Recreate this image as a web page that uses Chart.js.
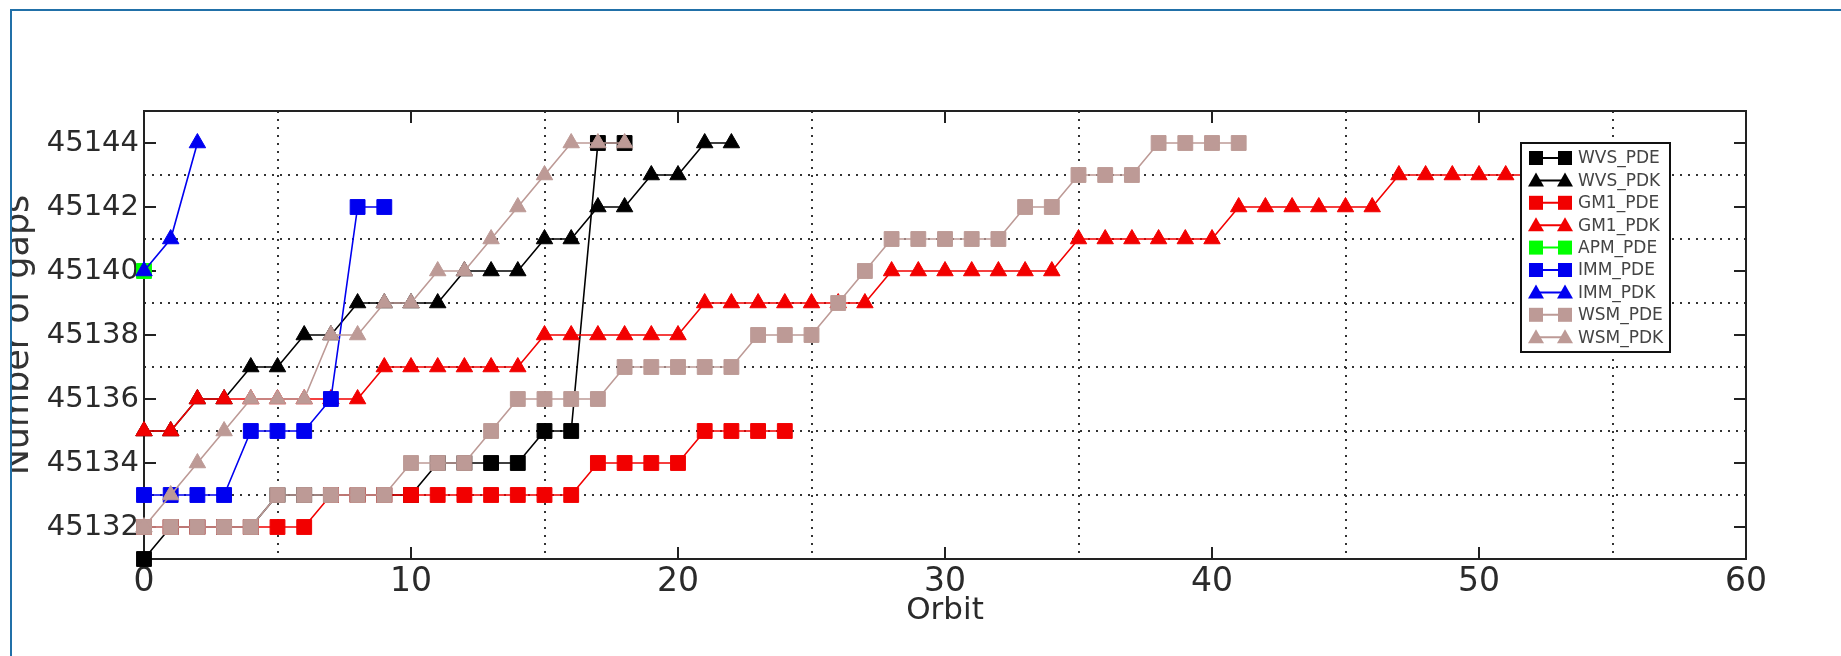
<!DOCTYPE html>
<html>
<head>
<meta charset="utf-8">
<title>Number of gaps per orbit</title>
<script src="https://cdn.jsdelivr.net/npm/chart.js@4.4.1/dist/chart.umd.min.js"></script>
<style>
    html, body { margin: 0; padding: 0; background: #fff; overflow: hidden; }
    #frame {
        position: absolute; left: 10px; top: 9px; width: 1831px; height: 647px;
        border-left: 2px solid #2170a8; border-top: 2px solid #2170a8;
        overflow: hidden; background: #fff;
    }
    #chart-gaps { display: block; }
</style>
</head>
<body>
<div id="frame"><canvas id="chart-gaps" width="1829" height="645"></canvas></div>
<script>
// values per orbit, starting at orbit 0
const wvsPde = [45131, 45132, 45132, 45132, 45132, 45133, 45133, 45133, 45133, 45133,
    45133, 45134, 45134, 45134, 45134, 45135, 45135, 45144, 45144];
const wvsPdk = [45135, 45135, 45136, 45136, 45137, 45137, 45138, 45138, 45139, 45139,
    45139, 45139, 45140, 45140, 45140, 45141, 45141, 45142, 45142, 45143, 45143, 45144, 45144];
const gm1Pde = [45132, 45132, 45132, 45132, 45132, 45132, 45132, 45133, 45133, 45133,
    45133, 45133, 45133, 45133, 45133, 45133, 45133, 45134, 45134, 45134, 45134,
    45135, 45135, 45135, 45135];
const gm1Pdk = [45135, 45135, 45136, 45136, 45136, 45136, 45136, 45136, 45136, 45137,
    45137, 45137, 45137, 45137, 45137, 45138, 45138, 45138, 45138, 45138, 45138,
    45139, 45139, 45139, 45139, 45139, 45139, 45139, 45140, 45140, 45140, 45140,
    45140, 45140, 45140, 45141, 45141, 45141, 45141, 45141, 45141, 45142, 45142,
    45142, 45142, 45142, 45142, 45143, 45143, 45143, 45143, 45143, 45143];
const apmPde = [45140];
const immPde = [45133, 45133, 45133, 45133, 45135, 45135, 45135, 45136, 45142, 45142];
const immPdk = [45140, 45141, 45144];
const wsmPde = [45132, 45132, 45132, 45132, 45132, 45133, 45133, 45133, 45133, 45133,
    45134, 45134, 45134, 45135, 45136, 45136, 45136, 45136, 45137, 45137, 45137,
    45137, 45137, 45138, 45138, 45138, 45139, 45140, 45141, 45141, 45141, 45141,
    45141, 45142, 45142, 45143, 45143, 45143, 45144, 45144, 45144, 45144];
const wsmPdk = [45132, 45133, 45134, 45135, 45136, 45136, 45136, 45138, 45138, 45139,
    45139, 45140, 45140, 45141, 45142, 45143, 45144, 45144, 45144];

const xTicks = [0, 10, 20, 30, 40, 50, 60];
const yTicks = [45132, 45134, 45136, 45138, 45140, 45142, 45144];

const FONT = 'DejaVu Sans';
const BLACK = '#000000';
const RED = '#f20000';
const GREEN = '#00ff00';
const BLUE = '#0000f0';
const ROSE = '#bd9a96';

function toPoints(values) {
    return values.map(function (v, i) { return { x: i, y: v }; });
}

function makeSet(label, values, color, style, order) {
    return {
        label: label,
        data: toPoints(values),
        borderColor: color,
        backgroundColor: color,
        borderWidth: 1.6,
        pointStyle: style,
        pointRadius: style === 'rect' ? 10.5 : 9.5,
        pointBorderWidth: 1,
        pointBackgroundColor: color,
        pointBorderColor: color,
        tension: 0,
        fill: false,
        clip: false,
        order: order
    };
}

// first series at the back, last series on top (like the original plot)
const datasets = [
    makeSet('WVS_PDE', wvsPde, BLACK, 'rect', 8),
    makeSet('WVS_PDK', wvsPdk, BLACK, 'triangle', 7),
    makeSet('GM1_PDE', gm1Pde, RED, 'rect', 6),
    makeSet('GM1_PDK', gm1Pdk, RED, 'triangle', 5),
    makeSet('APM_PDE', apmPde, GREEN, 'rect', 4),
    makeSet('IMM_PDE', immPde, BLUE, 'rect', 3),
    makeSet('IMM_PDK', immPdk, BLUE, 'triangle', 2),
    makeSet('WSM_PDE', wsmPde, ROSE, 'rect', 1),
    makeSet('WSM_PDK', wsmPdk, ROSE, 'triangle', 0)
];

// box round the plot, inward tick marks and the y title
const axesBox = {
    id: 'axesBox',
    beforeDatasetsDraw(chart) {
        const ctx = chart.ctx;
        const a = chart.chartArea;
        const sx = chart.scales.x;
        const sy = chart.scales.y;
        ctx.save();
        ctx.strokeStyle = '#222';
        ctx.lineWidth = 2;
        ctx.strokeRect(a.left, a.top, a.right - a.left, a.bottom - a.top);
        ctx.beginPath();
        yTicks.forEach(function (v) {
            const py = sy.getPixelForValue(v);
            ctx.moveTo(a.left, py); ctx.lineTo(a.left + 12, py);
            ctx.moveTo(a.right, py); ctx.lineTo(a.right - 12, py);
        });
        xTicks.forEach(function (v) {
            const px = sx.getPixelForValue(v);
            ctx.moveTo(px, a.bottom); ctx.lineTo(px, a.bottom - 12);
            ctx.moveTo(px, a.top); ctx.lineTo(px, a.top + 12);
        });
        ctx.stroke();

        ctx.translate(16, (a.top + a.bottom) / 2);
        ctx.rotate(-Math.PI / 2);
        ctx.fillStyle = '#333';
        ctx.font = '35px "' + FONT + '"';
        ctx.textAlign = 'center';
        ctx.textBaseline = 'alphabetic';
        ctx.fillText('Number of gaps', 0, 0);
        ctx.restore();
    }
};

// legend box inside the plot, top right
const legendBox = {
    id: 'legendBox',
    afterDatasetsDraw(chart) {
        const ctx = chart.ctx;
        const a = chart.chartArea;
        const w = 149, h = 209;
        const x0 = a.right - 225, y0 = a.top + 32;
        ctx.save();
        ctx.fillStyle = '#fff';
        ctx.fillRect(x0, y0, w, h);
        ctx.strokeStyle = '#111';
        ctx.lineWidth = 2;
        ctx.strokeRect(x0, y0, w, h);
        chart.data.datasets.forEach(function (ds, i) {
            const cy = y0 + 15 + i * 22.4;
            ctx.strokeStyle = ds.borderColor;
            ctx.fillStyle = ds.borderColor;
            ctx.lineWidth = 2;
            ctx.beginPath();
            ctx.moveTo(x0 + 12, cy);
            ctx.lineTo(x0 + 45, cy);
            ctx.stroke();
            [x0 + 15, x0 + 44].forEach(function (px) {
                if (ds.pointStyle === 'rect') {
                    ctx.fillRect(px - 7, cy - 7, 14, 14);
                } else {
                    ctx.beginPath();
                    ctx.moveTo(px, cy - 8);
                    ctx.lineTo(px + 8, cy + 6);
                    ctx.lineTo(px - 8, cy + 6);
                    ctx.closePath();
                    ctx.fill();
                }
            });
            ctx.fillStyle = '#444';
            ctx.font = '17px "' + FONT + '"';
            ctx.textAlign = 'left';
            ctx.textBaseline = 'middle';
            ctx.fillText(ds.label, x0 + 57, cy + 1);
        });
        ctx.restore();
    }
};

const ctxGaps = document.getElementById('chart-gaps').getContext('2d');

const chartGaps = new Chart(ctxGaps, {
    type: 'line',
    data: { datasets: datasets },
    options: {
        responsive: false,
        animation: false,
        layout: { padding: { top: 100, right: 95, left: 0, bottom: 0 } },
        plugins: {
            legend: { display: false },
            tooltip: { enabled: false }
        },
        scales: {
            x: {
                type: 'linear',
                min: 0,
                max: 60,
                ticks: {
                    stepSize: 5,
                    autoSkip: false,
                    maxRotation: 0,
                    padding: 4,
                    color: '#2a2a2a',
                    font: { family: FONT, size: 33 },
                    callback: function (v) { return v % 10 === 0 ? String(v) : ''; }
                },
                grid: {
                    drawTicks: false,
                    lineWidth: 2,
                    color: function (c) {
                        return c.tick && c.tick.value % 10 === 5 ? '#333' : 'rgba(0,0,0,0)';
                    }
                },
                border: { display: false, dash: [2, 6] },
                title: {
                    display: true,
                    text: 'Orbit',
                    color: '#2a2a2a',
                    font: { family: FONT, size: 31 },
                    padding: { top: 0, bottom: 26 }
                },
                afterFit: function (s) { s.height = 97; }
            },
            y: {
                min: 45131,
                max: 45145,
                ticks: {
                    stepSize: 1,
                    autoSkip: false,
                    padding: 5,
                    color: '#2a2a2a',
                    font: { family: FONT, size: 29 },
                    callback: function (v) { return v % 2 === 0 ? String(v) : ''; }
                },
                grid: {
                    drawTicks: false,
                    lineWidth: 2,
                    color: function (c) {
                        const v = c.tick ? c.tick.value : 0;
                        return v % 2 === 1 && v > 45131 && v < 45145 ? '#333' : 'rgba(0,0,0,0)';
                    }
                },
                border: { display: false, dash: [2, 6] },
                afterFit: function (s) { s.width = 132; }
            }
        }
    },
    plugins: [axesBox, legendBox]
});
</script>
</body>
</html>
